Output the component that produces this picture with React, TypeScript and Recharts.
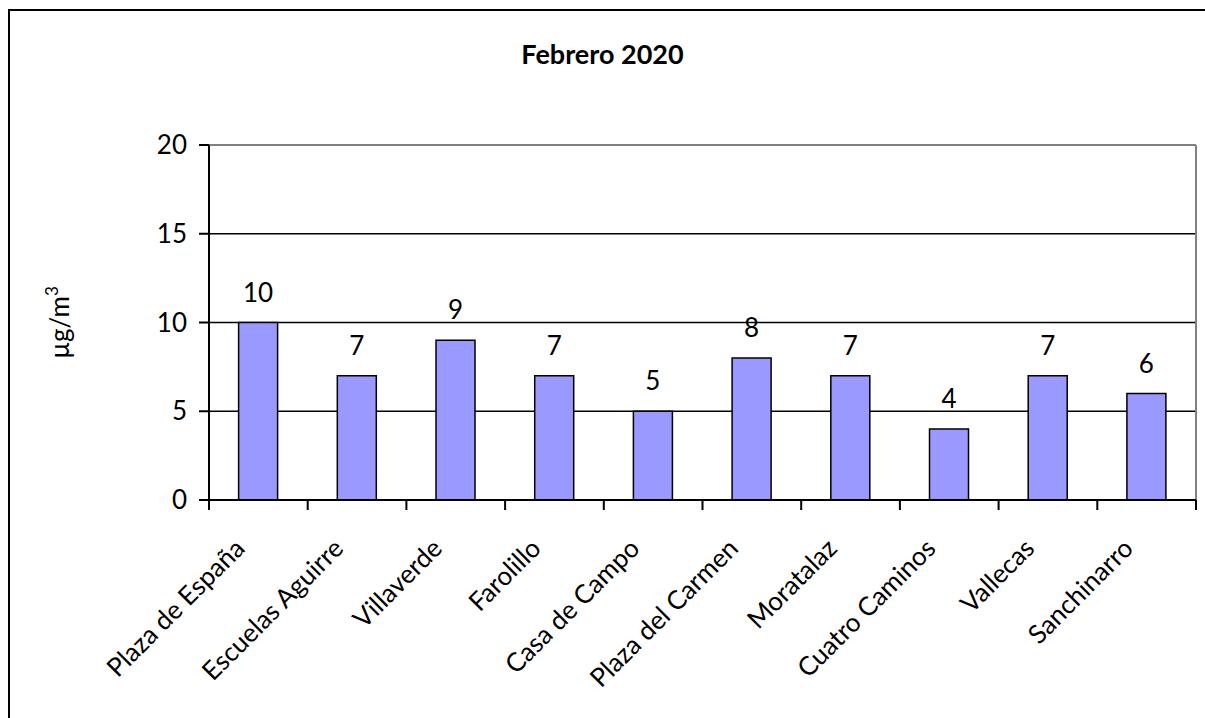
import { BarChart, Bar, XAxis, YAxis, CartesianGrid, LabelList, ReferenceLine } from 'recharts'

const stations = [
  'Plaza de España',
  'Escuelas Aguirre',
  'Villaverde',
  'Farolillo',
  'Casa de Campo',
  'Plaza del Carmen',
  'Moratalaz',
  'Cuatro Caminos',
  'Vallecas',
  'Sanchinarro',
]
const values = [10, 7, 9, 7, 5, 8, 7, 4, 7, 6]
const yTicks = [0, 5, 10, 15, 20]

const data = stations.map((name, i) => ({ name, value: values[i] }))

const FONT = 'Lato, "Open Sans", sans-serif'

// category label plus tick marks on the category edges, Excel style
function StationTick({ x, y, payload, index }: any) {
  const half = payload.offset || 0
  const last = index === stations.length - 1
  return (
    <g transform={`translate(${x},${y})`}>
      <line x1={-half} y1={0} x2={-half} y2={10} stroke="#000" strokeWidth={2} />
      {last && <line x1={half} y1={0} x2={half} y2={10} stroke="#000" strokeWidth={2} />}
      <text
        transform="translate(-12,50) rotate(-45)"
        textAnchor="end"
        fontSize={26}
        fontFamily={FONT}
        fill="#000"
      >
        {payload.value}
      </text>
    </g>
  )
}

function UnitLabel({ viewBox }: any) {
  const cx = viewBox.x - 80
  const cy = viewBox.y + viewBox.height / 2
  return (
    <text
      transform={`translate(${cx},${cy}) rotate(-90)`}
      textAnchor="middle"
      fontSize={26}
      fontFamily={FONT}
      fill="#000"
    >
      µg/m
      <tspan dy={-11} fontSize={17}>3</tspan>
    </text>
  )
}

export default function App() {
  return (
    <div style={{ position: 'relative', width: 1205, height: 718, overflow: 'hidden', background: '#fff' }}>
      <style>{'body{margin:0}'}</style>
      <div
        style={{
          position: 'absolute',
          left: 8,
          top: 9,
          width: 1300,
          height: 800,
          border: '2px solid #000',
        }}
      />
      <div
        style={{
          position: 'absolute',
          left: 0,
          width: 1205,
          top: 37,
          textAlign: 'center',
          fontFamily: FONT,
          fontWeight: 'bold',
          fontSize: 27,
          color: '#000',
        }}
      >
        Febrero 2020
      </div>
      <div style={{ position: 'absolute', left: 0, top: 0 }}>
        <BarChart
          width={1205}
          height={718}
          data={data}
          margin={{ top: 145, right: 9, left: 149, bottom: 18 }}
          barCategoryGap="30%"
        >
          <CartesianGrid vertical={false} stroke="#000" strokeWidth={1.5} />
          <CartesianGrid
            horizontal={false}
            verticalCoordinatesGenerator={({ offset }: any) => [offset.left + offset.width]}
            stroke="#808080"
            strokeWidth={2}
          />
          <XAxis
            dataKey="name"
            height={200}
            interval={0}
            tickLine={false}
            tickSize={0}
            tickMargin={0}
            axisLine={{ stroke: '#000', strokeWidth: 2 }}
            tick={<StationTick />}
          />
          <YAxis
            domain={[0, 20]}
            ticks={yTicks}
            width={60}
            tickSize={10}
            tickMargin={12}
            axisLine={{ stroke: '#000', strokeWidth: 2 }}
            tickLine={{ stroke: '#000', strokeWidth: 2 }}
            tick={{ fontSize: 26, fontFamily: FONT, fill: '#000' }}
            label={{ content: <UnitLabel /> }}
          />
          <ReferenceLine y={20} stroke="#808080" strokeWidth={2} />
          <Bar
            dataKey="value"
            fill="#9999FF"
            stroke="#000"
            strokeWidth={1.5}
            isAnimationActive={false}
          >
            <LabelList
              dataKey="value"
              position="top"
              offset={21}
              fontSize={26}
              fontFamily={FONT}
              fill="#000"
            />
          </Bar>
        </BarChart>
      </div>
    </div>
  )
}
